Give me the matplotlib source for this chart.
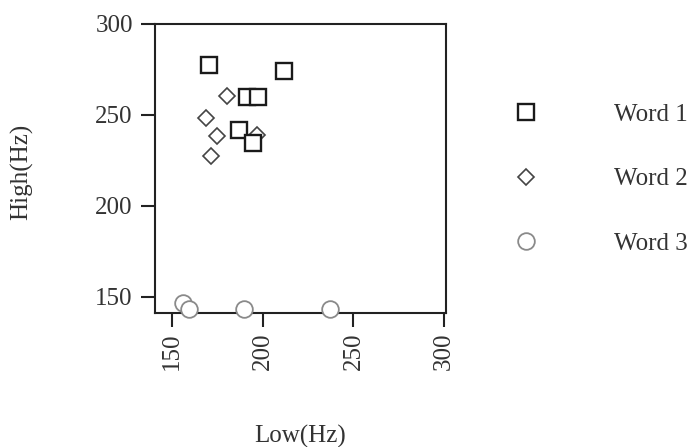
import matplotlib
matplotlib.use('Agg')
import matplotlib.pyplot as plt

plt.rcParams['font.family'] = ['Liberation Serif', 'DejaVu Serif']

# Low(Hz), High(Hz) per word
word1_low = [170.4, 211.8, 191.5, 197.6, 187.0, 194.5]
word1_high = [277.4, 274.2, 259.6, 259.6, 241.9, 234.5]
word2_low = [180.5, 168.8, 175.0, 171.7, 196.7]
word2_high = [260.3, 248.3, 238.2, 227.6, 238.8]
word3_low = [156.2, 159.4, 189.9, 237.1]
word3_high = [146.3, 143.2, 143.2, 143.2]
labels = ['Word 1', 'Word 2', 'Word 3']
ticks = [150, 200, 250, 300]

fig = plt.figure(figsize=(6.95, 4.47), dpi=100)
ax = fig.add_axes([155 / 695, 1 - 313 / 447, 291 / 695, 289 / 447])

ax.plot(word2_low, word2_high, 'D', ms=8.5, mfc='white', mec='#444444', mew=1.2,
        label=labels[1], zorder=2, clip_on=False)
ax.plot(word1_low, word1_high, 's', ms=12, mfc='white', mec='#1a1a1a', mew=1.7,
        label=labels[0], zorder=3, clip_on=False)
ax.plot(word3_low, word3_high, 'o', ms=12, mfc='white', mec='#8a8a8a', mew=1.3,
        label=labels[2], zorder=4, clip_on=False)

ax.set_xlim(140.6, 301)
ax.set_ylim(141, 300)
ax.set_xticks(ticks)
ax.set_yticks(ticks)
ax.tick_params(direction='out', length=10, width=1.5, color='#222222',
               labelsize=18, labelcolor='#333333')
ax.tick_params(axis='y', pad=6)
ax.tick_params(axis='x', pad=4, labelrotation=90)
for s in ax.spines.values():
    s.set_linewidth(1.5)
    s.set_color('#222222')

fig.text(22 / 695, 1 - 172 / 447, 'High(Hz)', rotation=90, ha='center', va='center',
         fontsize=18, color='#333333')
fig.text(300 / 695, 1 - 436 / 447, 'Low(Hz)', ha='center', va='center',
         fontsize=18, color='#333333')

h, l = ax.get_legend_handles_labels()
order = [1, 0, 2]
leg = fig.legend([h[i] for i in order], [l[i] for i in order], loc='center left',
                 bbox_to_anchor=(513.5 / 695, 1 - 179 / 447), frameon=False,
                 fontsize=18, handlelength=1, handletextpad=3.0, labelspacing=1.68,
                 borderpad=0, borderaxespad=0)
for t in leg.get_texts():
    t.set_color('#333333')

fig.savefig('out.png', dpi=100)
